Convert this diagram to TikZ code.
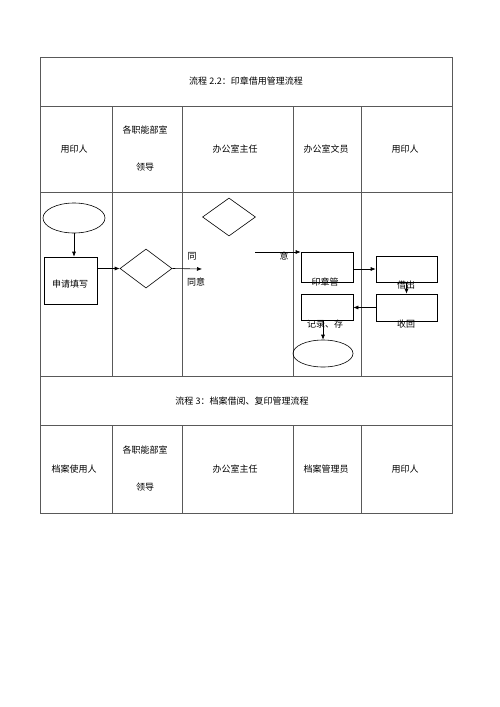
\documentclass[tikz,border=0pt]{standalone}
\usepackage{fontspec}
\setmainfont{Noto Sans CJK SC}
\usepackage{tikz}
\usetikzlibrary{
  arrows.meta,
  positioning,
  shapes.geometric
}
\tikzset{
  gridline/.style={gray!70!black, line width=0.5pt},
  cell/.style={font=\fontsize{9}{11}\selectfont, inner sep=0pt},
  flowbox/.style={draw, line width=0.6pt, inner sep=0pt},
  decision/.style={draw, diamond, line width=0.6pt, inner sep=0pt},
  terminal/.style={draw, ellipse, line width=0.6pt, inner sep=0pt},
  arr/.style={-{Latex[length=5pt,width=4pt]}, line width=0.6pt},
}

\begin{document}
\begin{tikzpicture}[x=1pt, y=-1pt]
  \useasboundingbox (0,0) rectangle (500,707);

  % table
  \draw[gridline] (40,57) rectangle (452,513);
  \foreach \y in {106,192,376,425} {
    \draw[gridline] (40,\y) -- (452,\y);
  }
  \foreach \x in {112,182,293,361} {
    \draw[gridline] (\x,106) -- (\x,376);
    \draw[gridline] (\x,425) -- (\x,513);
  }

  % headings of the first flow
  \node[cell] (t1) at (246,81) {流程 2.2：印章借用管理流程};
  \node[cell] (h1) at (74,149) {用印人};
  \node[cell] (h2a) at (145,130) {各职能部室};
  \node[cell] (h2b) at (145,167) {领导};
  \node[cell] (h3) at (235,149) {办公室主任};
  \node[cell] (h4) at (326,149) {办公室文员};
  \node[cell] (h5) at (405,149) {用印人};

  % the flow
  \node[terminal, minimum width=62pt, minimum height=30pt] (start) at (74,218) {};
  \node[flowbox, minimum width=53pt, minimum height=47pt] (apply) at (70.5,280.5) {};
  \node[cell] (applyt) at (70,284) {申请填写};
  \node[decision, minimum width=52pt, minimum height=39pt] (dept) at (146,268.5) {};
  \node[decision, minimum width=53pt, minimum height=38pt] (chief) at (229,217) {};
  \coordinate (agreeend) at (202,269);
  \coordinate (agreestart) at (255,252);
  \node[cell] (tong) at (192,256) {同};
  \node[cell] (tongyi) at (196,282) {同意};
  \node[cell] (yi) at (284,256) {意};

  \node[flowbox, minimum width=52pt, minimum height=30pt] (seal) at (327,267) {};
  \node[cell] (sealt) at (325,282) {印章管};
  \node[flowbox, minimum width=61pt, minimum height=26pt] (lend) at (406.5,269) {};
  \node[cell] (lendt) at (406,285) {借出};
  \node[flowbox, minimum width=61pt, minimum height=27pt] (back) at (406.5,307.5) {};
  \node[cell] (backt) at (406,324) {收回};
  \node[flowbox, minimum width=52pt, minimum height=26pt] (record) at (327,307) {};
  \node[cell] (recordt) at (325,324) {记录、存};
  \node[terminal, minimum width=60pt, minimum height=27pt] (stop) at (323,353.5) {};

  \draw[arr] (start) -- (start |- apply.north);
  \draw[arr] (apply.east |- dept) -- (dept.west);
  \draw[arr] (dept.east) -- (agreeend);
  \draw[arr] (agreestart) -- (seal.west |- agreestart);
  \draw[arr] (seal.east |- lend) -- (lend.west);
  \draw[arr] (lend.south) -- (back.north);
  \draw[arr] (back.west) -- (record.east |- back.west);
  \draw[arr] (stop |- record.south) -- (stop.north);

  % headings of the second flow
  \node[cell] (t2) at (242,401) {流程 3：档案借阅、复印管理流程};
  \node[cell] (k1) at (74,469) {档案使用人};
  \node[cell] (k2a) at (145,450) {各职能部室};
  \node[cell] (k2b) at (145,487) {领导};
  \node[cell] (k3) at (235,469) {办公室主任};
  \node[cell] (k4) at (326,469) {档案管理员};
  \node[cell] (k5) at (405,469) {用印人};
\end{tikzpicture}
\end{document}
